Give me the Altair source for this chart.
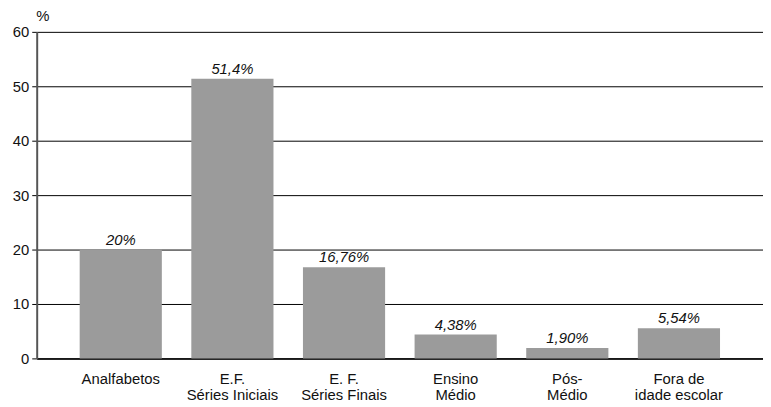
import altair as alt
import pandas as pd

categories = ["Analfabetos", "E.F.|Séries Iniciais", "E. F.|Séries Finais",
              "Ensino|Médio", "Pós-|Médio", "Fora de|idade escolar"]
values = [20, 51.4, 16.76, 4.38, 1.90, 5.54]
labels = ["20%", "51,4%", "16,76%", "4,38%", "1,90%", "5,54%"]

df = pd.DataFrame({"cat": categories, "val": values, "lbl": labels})

FONT = "Liberation Sans"
FS = 15

x = alt.X("cat:N", sort=categories, title=None,
          scale=alt.Scale(paddingInner=0.264, paddingOuter=0.385),
          axis=alt.Axis(labelExpr="split(datum.label, '|')", labelAngle=0,
                        ticks=False, domainColor="#000000", domainWidth=1.5,
                        labelFont=FONT, labelFontSize=FS, labelColor="#111111",
                        labelPadding=13, labelLineHeight=17))
y = alt.Y("val:Q", title="%",
          scale=alt.Scale(domain=[0, 60], nice=False),
          axis=alt.Axis(values=[0, 10, 20, 30, 40, 50, 60], grid=True,
                        gridColor="#000000", gridWidth=1,
                        domainColor="#555555", domainWidth=2,
                        tickColor="#000000", tickSize=5, tickWidth=1,
                        labelFont=FONT, labelFontSize=FS, labelColor="#111111",
                        labelPadding=3,
                        titleAngle=0, titleX=-1, titleY=-11, titleAlign="left",
                        titleBaseline="alphabetic", titleFont=FONT,
                        titleFontSize=FS, titleFontWeight="normal",
                        titleColor="#111111"))

bars = alt.Chart(df).mark_bar(color="#9b9b9b").encode(x=x, y=y)
text = alt.Chart(df).mark_text(fontStyle="italic", font=FONT, fontSize=FS,
                               baseline="bottom", dy=-2, color="#111111").encode(
    x=alt.X("cat:N", sort=categories), y="val:Q", text="lbl:N")

chart = (bars + text).properties(
    width=734, height=330,
    autosize=alt.AutoSizeParams(type="none"),
    padding={"left": 29, "top": 22, "right": 0, "bottom": 47},
).configure_view(stroke=None).configure_axis(domainCap="butt")

chart.save("out.html", embed_options={"renderer": "svg", "actions": False})
